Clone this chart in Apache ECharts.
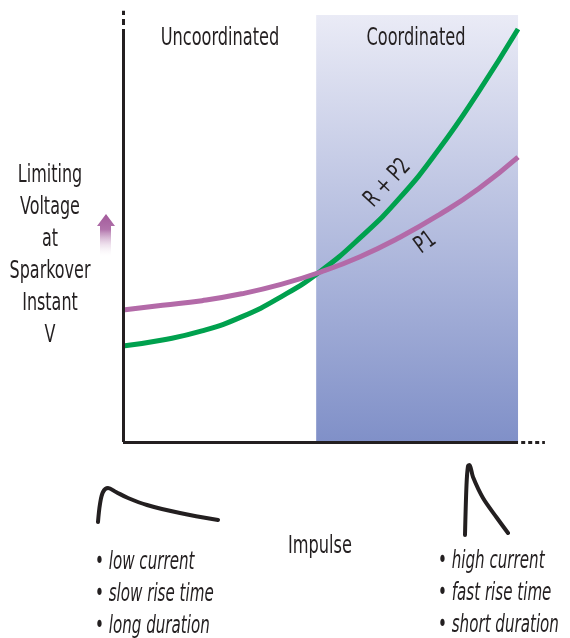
<!DOCTYPE html>
<html>
<head>
<meta charset="utf-8">
<script src="https://cdn.jsdelivr.net/npm/echarts@6/dist/echarts.min.js"></script>
<style>
  html, body { margin: 0; padding: 0; background: #fff; }
  #chart { width: 570px; height: 638px; }
</style>
</head>
<body>
<div id="chart"></div>
<script>
  // curve samples, impulse on x (0-100), limiting voltage on y (0-100)
  var impulseX = [0, 10, 20, 30, 40, 50, 60, 70, 80, 90, 100];
  var rp2Values = [22.5, 23.9, 26.0, 29.3, 34.0, 40.0, 47.8, 57.1, 68.6, 82.0, 96.7];
  var p1Values = [30.9, 32.0, 33.1, 34.7, 36.9, 39.8, 43.4, 47.9, 53.2, 59.3, 66.7];
  var coordStart = 48.9;

  // impulse waveform sketches
  var slowWave = [[0, 0], [2, 18], [5, 30], [10, 34], [18, 30], [30, 24], [49, 17], [82, 9], [120, 2]];
  var fastWave = [[0, 0], [1.5, 50], [3, 69], [4.5, 70], [8, 58], [18, 37], [32, 17], [43, 2]];

  var regionLabels = ['Uncoordinated', 'Coordinated'];
  var yLabelLines = ['Limiting', 'Voltage', 'at', 'Sparkover', 'Instant', 'V'];
  var slowNotes = ['• low current', '• slow rise time', '• long duration'];
  var fastNotes = ['• high current', '• fast rise time', '• short duration'];

  var ink = '#231f20';
  var narrow = '"DejaVu Sans Condensed", "DejaVu Sans", sans-serif';

  var myChart = echarts.init(document.getElementById('chart'));

  function pairs(xs, ys) {
    return xs.map(function (x, i) { return [x, ys[i]]; });
  }

  // squeezed text so the condensed face looks like the narrow original
  function txt(text, x, y, font, sx, align, rot) {
    return {
      type: 'text',
      x: x, y: y, scaleX: sx, rotation: rot || 0,
      z: 100,
      silent: true,
      style: {
        text: text, x: 0, y: 0, font: font, fill: ink,
        align: align || 'center', verticalAlign: 'middle',
        textAlign: align || 'center', textVerticalAlign: 'middle',
        lineHeight: 32
      }
    };
  }

  function hiddenAxis(idx, max) {
    return {
      gridIndex: idx, type: 'value', min: 0, max: max,
      axisLine: { show: false }, axisTick: { show: false },
      axisLabel: { show: false }, splitLine: { show: false }
    };
  }

  // axes drawn as marker lines so they can end in dots
  var axisDeco = {
    symbol: 'none',
    silent: true,
    label: { show: false },
    lineStyle: { color: ink, width: 3, type: 'solid', cap: 'butt' },
    data: [
      [{ coord: [0, 0] }, { coord: [0, 95.3] }],
      [{ coord: [0, 0] }, { coord: [100, 0] }],
      [{ coord: [0, 95.3], lineStyle: { type: [6, 4] } }, { coord: [0, 101] }],
      [{ coord: [100.8, 0], lineStyle: { type: [4, 3] } }, { coord: [106.8, 0] }]
    ]
  };

  var option = {
    animation: false,
    grid: [
      { left: 123, right: 25.1, top: 10.7, bottom: 196 },
      { left: 98, top: 488, width: 120, height: 34 },
      { left: 465, top: 464, width: 43, height: 71 }
    ],
    xAxis: [hiddenAxis(0, 106.8), hiddenAxis(1, 120), hiddenAxis(2, 43)],
    yAxis: [hiddenAxis(0, 101), hiddenAxis(1, 34), hiddenAxis(2, 71)],
    series: [
      {
        name: 'Coordinated region',
        type: 'line',
        data: [],
        clip: false,
        markArea: {
          silent: true,
          itemStyle: {
            color: new echarts.graphic.LinearGradient(0, 0, 0, 1, [
              { offset: 0, color: '#eaebf6' },
              { offset: 1, color: '#8090c8' }
            ])
          },
          data: [[{ coord: [coordStart, 100] }, { coord: [100, 0] }]]
        },
        markLine: axisDeco
      },
      {
        name: 'R + P2',
        type: 'line',
        smooth: true,
        symbol: 'none',
        data: pairs(impulseX, rp2Values),
        lineStyle: { color: '#00a14e', width: 5 }
      },
      {
        name: 'P1',
        type: 'line',
        smooth: true,
        symbol: 'none',
        data: pairs(impulseX, p1Values),
        lineStyle: { color: '#b36aa8', width: 5 }
      },
      {
        type: 'line', xAxisIndex: 1, yAxisIndex: 1, smooth: 0.35, symbol: 'none',
        data: slowWave, lineStyle: { color: ink, width: 4, cap: 'round', join: 'round' }
      },
      {
        type: 'line', xAxisIndex: 2, yAxisIndex: 2, smooth: 0.3, symbol: 'none',
        data: fastWave, lineStyle: { color: ink, width: 4, cap: 'round', join: 'round' }
      }
    ]
  };

  myChart.setOption(option);

  var rp2Pos = myChart.convertToPixel({ seriesIndex: 1 }, [67.0, 60.6]) || [388, 183];
  var p1Pos = myChart.convertToPixel({ seriesIndex: 2 }, [76.6, 46.6]) || [425, 243];

  myChart.setOption({
    graphic: [
      txt(regionLabels[0], 220, 38, '25px ' + narrow, 0.72),
      txt(regionLabels[1], 416, 38, '25px ' + narrow, 0.72),
      txt(yLabelLines.join('\n'), 50, 256, '24px ' + narrow, 0.74),
      txt('R + P2', rp2Pos[0], rp2Pos[1], '24px ' + narrow, 0.76, 'center', 47 * Math.PI / 180),
      txt('P1', p1Pos[0], p1Pos[1], '24px ' + narrow, 0.76, 'center', 36 * Math.PI / 180),
      {
        type: 'polygon',
        silent: true,
        z: 100,
        shape: { points: [[97, 226], [106, 214], [115, 226], [111, 226], [111, 258], [100, 258], [100, 226]] },
        style: {
          fill: new echarts.graphic.LinearGradient(0, 0, 0, 1, [
            { offset: 0, color: '#a2599a' },
            { offset: 0.35, color: '#b173ab' },
            { offset: 1, color: 'rgba(255,255,255,0)' }
          ])
        }
      },
      txt('Impulse', 320, 547, '24px ' + narrow, 0.75),
      txt(slowNotes.join('\n'), 95, 595, 'italic 24px ' + narrow, 0.7, 'left'),
      txt(fastNotes.join('\n'), 438, 594, 'italic 24px ' + narrow, 0.7, 'left')
    ]
  });
</script>
</body>
</html>
